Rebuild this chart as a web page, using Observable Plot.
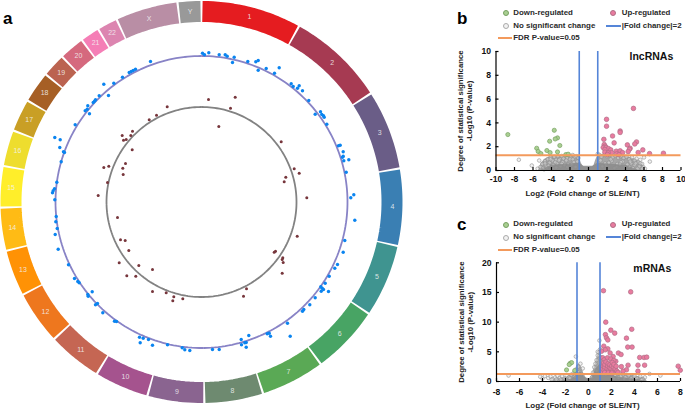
<!DOCTYPE html>
<html><head><meta charset="utf-8">
<script src="https://cdn.jsdelivr.net/npm/d3@7"></script>
<script src="https://cdn.jsdelivr.net/npm/@observablehq/plot@0.6"></script>
<style>
html,body{margin:0;padding:0;background:#fff}
#fig{position:relative;width:685px;height:410px;overflow:hidden;font-family:"Liberation Sans",Arial,sans-serif}
#fig>svg,#fig>div.p{position:absolute}
.lt{position:absolute;font-size:7.9px;font-weight:700;color:#2a2a2a;white-space:nowrap;line-height:10px}
.ld{position:absolute;width:4px;height:4px;border-radius:50%;box-sizing:content-box}
.ll{position:absolute;height:2px}
.pl{position:absolute;font-weight:700;font-size:17px;color:#000;line-height:19px}
</style></head><body><div id="fig"></div>
<script>
// ---- circular panel a ----
const chrNames=["1","2","3","4","5","6","7","8","9","10","11","12","13","14","15","16","17","18","19","20","21","22","X","Y"];
const chrSizes=[249,243,198,191,181,171,159,146,141,135,135,133,115,107,102,90,81,78,59,63,48,51,155,59];
const chrColors=["#e51c20","#a63a52","#6a5d87","#3a7fb3","#3f9490","#48a464","#5aa955","#6e8a70","#8a6490","#a5538e","#c56653","#ee771e","#ff9205","#ffbb15","#ffee2a","#eedd2e","#c99f25","#a65f25","#bb6350","#d5697e","#f57eb6","#dc85b0","#b98ea5","#999999"];
const blueX=[202,204,208.3,218.7,224.7,226.7,150,135,132.7,130.7,128.7,122,113.3,103.3,98.7,108,95,94,92.7,87.3,86.7,84.7,89,74.7,54.3,59.7,59.3,63,64,60.7,56.3,54,52.7,52,54.3,
233.7,232,247.3,255.3,257.7,257.7,265.7,274,278.7,290.7,292.7,298.7,297,302,308.3,314.7,320,321.3,323,323.7,326.3,338,339.7,342.7,342.7,342,343.3,348.3,345.7,353.3,350.3,
55.7,55.3,56.7,54.7,57.7,68,74,77.3,78.7,91.7,87.3,87.7,97,95,102.3,114,116,139,142.7,148,139.7,152,167,181.7,184.3,189.3,212,218.7,
354.3,344.3,342.7,337,334.3,328.7,324.7,320.3,321.7,323,320.7,328,314.7,309.3,303.3,302,287,289.7,266.7,268.7,270,248.3,240.7,245.7,244.3,241,245.7];
const blueY=[52.7,54.3,52.3,54.3,54.3,55.7,61,68.7,70,71,72,76.7,82.7,83.7,95.3,95,99.3,100.7,102,105.3,108.7,110.3,113.3,124.3,137,139.3,147,151.3,152,161.3,181.7,188.3,190.3,192.3,199.3,
56.7,62,61,61.3,60,69.7,68,72.7,67.3,83.3,86,85.3,87.7,90.3,100,113.7,111.3,114,115.3,116.7,123.7,145.3,144.7,151.3,155.7,156.7,160.3,159.3,171.7,194.3,197.3,
216,221.3,228,234,248.7,264.3,278,281,282.3,291.3,294,295.7,303,304.3,312.3,320.7,321,336.7,337.7,339,342.3,344.7,344.3,347.3,349.3,350,349,349,
219.7,240,251.7,264,267.7,275.7,282.7,286.3,287.7,289,290.7,291,297.3,304.3,309,310.7,322.7,335.7,333.3,332.7,335.7,335,339,342,342.3,344.3,346.7];
const brownX=[208,218.3,166.7,156,148.7,132,121.7,130.3,125.7,123,131.7,125,108.3,103.3,122.3,122.7,107,97.7,
234.7,230,280.7,293.7,298.7,285.3,283.7,306.3,
117,120,124.7,128.3,118.7,138.3,152,126.3,135.3,152,165.7,173.3,182.3,172.3,
296.7,275,273.7,282.3,281.7,282.7,281.7,246,243];
const brownY=[99,126,106.3,114.7,119.3,130.7,135,135,139,139.7,149.3,163,165.7,167,167.7,174,182,195,
96.7,107.7,141.3,168.3,172.7,176.7,181.3,197.3,
217,239.3,240,250,262.3,265,269,275.3,275.7,291,292.3,296.3,298.3,300.3,
235.7,250.7,251.7,257.3,259,262,272.7,288.3,295.7];

// ---- volcano b (lncRNAs) ----
const bDownX=[-8.72,-3.7,-3.35,-3.6,-4.2,-3.1,-5.6,-5.44,-5.15,-4.5,-4.15,-3.35,-2.45,-2.2];
const bDownY=[3.02,3.38,2.74,2.65,2.46,2.1,1.87,1.6,1.42,1.68,1.5,1.56,1.34,1.37];
const bUpX=[4.86,1.95,1.95,3.42,3.42,2.6,1.66,2.77,5.19,5,4.2,1.7,1.8,1.59,1.9,2.16,1.77,2.41,4.5,4.43,5.87,4.29,5.37,6.6,8.1,3,3.42,3.68,2.49,1.77,2.13,3.06,2.05,3.3];
const bUpY=[5.22,4.3,3.72,3.32,3.2,2.9,2.62,2.32,2.4,2.23,2.15,2.18,2.04,1.93,1.93,1.84,1.76,1.73,1.87,1.79,1.73,1.59,1.51,1.42,1.45,1.62,1.65,1.5,1.5,1.54,1.48,1.4,1.34,1.34];
const bNsX=[-7.53,-6.13,-5.5,-5.33,6.63,-5.2,-5,-4.9,-4.7,-4.6,-4.4,-4.2,-4.1,-3.9,-3.7,-3.5,-3.3,-3.1,-2.9,-2.7,-2.5,-2.3,-2.1,-1.9,-1.7,-1.5,-1.3,-1.1,-4.8,-4.5,-3.8,-3.4,-2.8,-2.2,-1.6,
1,1.2,1.4,1.7,2,2.3,2.6,2.9,3.2,3.5,3.8,4.1,4.4,4.7,5,5.2,5.4,5.6,5.8,6,5.9,6.1,5.5,5,4.6,4.2,3.7,3.1,2.5,1.8,4.8,5.3,
-4.3,-3.6,-3,-2.4,-1.8,-1.2,-3.9,-3.2,-2.6,-2,-1.4,-4.7,-4.1,-3.5,-2.9,-2.3,-1.7,1.3,1.9,2.4,3,3.5,4,4.5,5.1,1.5,2.2,2.8,3.4,3.9,4.4,5.6,5.8];
const bNsY=[.9,.42,.15,.84,.75,.3,.55,.2,.8,.4,.95,.65,1.1,.85,1.15,.9,1.2,.95,1.22,1,1.25,1.05,1.28,1.1,1.3,1.12,1.2,1.05,.1,.25,.45,.6,.7,.5,.7,
1.4,1.3,1.15,1.32,1.2,1.3,1.1,1.25,1.05,1.2,1.05,1.15,.95,1.1,.85,1,.7,.9,.55,1.1,.3,.15,.35,.45,.6,.5,.75,.55,.8,.6,.2,.15,
.4,.7,.35,.85,.5,.75,.2,.85,.45,.95,.3,.6,.95,.25,.55,.3,.95,.85,.4,.95,.3,.7,.25,.75,.6,.35,.65,.2,.5,.25,.3,.6,.15];
const bCloudX=[-5.4,-5.1,-4.7,-4.2,-3,-2,-1.5,-1,-.8,-.6,-.4,0,.4,.6,.8,1,1.5,2,3,4,4.6,5,5.5,5.9,6.2];
const bCloudY=[.03,.6,.95,1.15,1.25,1.3,1.25,1.15,.65,.35,.3,.3,.3,.45,.9,1.25,1.35,1.35,1.3,1.2,1.1,.95,.75,.45,.03];
const bCoreX=[-5.1,-4,-2,-1,-.5,0,.5,1,2,4,5.4];
const bCoreY=[.03,.45,.55,.6,.35,.35,.35,.6,.55,.45,.03];

// ---- volcano c (mRNAs) ----
const cDownX=[-1.91,-1.59,-1.47,-1.68,-1.2];
const cDownY=[1.95,3.07,3.18,2.85,1.85];
const cUpX=[1.3,3.67,1.5,3.76,1.94,2.28,1.47,1.56,1.68,3.3,1.33,3.41,3.79,1.68,1.45,1.13,2.6,2.83,1.88,2.14,4.45,4.83,5.06,2.37,1.24,1.36,1.65,1.94,2.2,2.86,3.44,4.3,4.88,7.8,7.98,3.3,3,4.3,
1.17,1.22,1.28,1.31,1.37,1.41,1.43,1.52,1.58,1.62,1.66,1.71,1.77,1.83,1.86,1.92,1.96,2.02,2.07,2.11,2.17,2.21,2.27,2.32,2.41,2.47,2.56,1.42,1.72,2.03];
const cUpY=[15.3,15.1,10,8.8,8.65,8.15,7.9,7.36,7,7.3,5.95,5.8,5.8,5.5,5.34,5.1,4.8,4.55,4.8,4.2,4.05,4.05,4.1,3.4,4,3.65,4,3.8,3.55,2.5,2.75,2.75,2.75,2.58,1.9,1.97,1.74,1.74,
1.62,2.13,2.58,3.12,1.91,2.43,2.87,3.3,1.58,2.14,2.62,3.03,1.87,2.33,2.84,1.56,2.17,2.6,3.21,1.79,2.42,2.88,1.61,2.12,2.56,1.76,1.53,1.52,1.47,1.44];
const cNsX=[-6.95,-4.2,-4,-3.8,-3.5,-3.3,-3.1,-2.9,-2.7,-2.5,-2.3,-2.1,-1.9,-1.7,-1.5,-1.3,-1.1,-.9,-.7,-.5,-.8,-1.1,
6.25,5.3,4.9,4.7,4.5,4.2,4,3.7,3.5,3.2,3,2.8,2.6,2.3,.5,.7,.8,.9,1,1.1,.6,.4,.95,.8,
-3.2,-2.8,-2.4,-2,-1.6,-1.2,-.6,.3,.7,1.2,1.5,2.2,2.6,3.1,3.6,4.1,4.6];
const cNsY=[1,.8,.5,.9,.6,.85,.4,.7,.95,.6,.85,.5,1,.7,1.15,1.4,2,2.5,3,2.2,1.6,4.2,
1,1.28,.7,.4,.85,.55,.9,.5,1.05,.7,1.2,.85,1.35,1.1,2.4,3.6,4.4,4.9,5.4,4.1,3,1.5,6.9,5,
.3,.35,.3,.35,.5,.8,1.2,.7,1.8,2.4,1.2,.5,.6,.4,.3,.35,.25];
const cCloudX=[-3.3,-3,-2.5,-2,-1.5,-1.2,-1,-.8,-.6,-.4,-.2,0,.1,.3,.5,.7,.9,1,1.2,1.5,2,2.5,3,4,4.9,5.1];
const cCloudY=[.03,.35,.55,.7,1.05,1.7,2.6,3,2.4,1.3,.6,.5,.45,1,2.3,3.7,5,5.2,4,3,2.2,1.6,1.25,.95,.6,.03];
const cCoreX=[-2.5,-1.5,-1,-.7,-.4,0,.3,.7,1,1.5,2.5,4,5];
const cCoreY=[.05,.4,1.1,1.7,.8,.35,.6,2.2,2.9,1.6,.7,.4,.05];

const legendLabels=["Down-regulated","Up-regulated","No significant change","|Fold change|=2","FDR P-value=0.05"];
const bPanel={name:"lncRNAs",xTicks:[-10,-8,-6,-4,-2,0,2,4,6,8,10],yTicks:[0,2,4,6,8,10],xDom:[-10,10],yDom:[0,10],fdr:1.28,labelX:6.8,labelY:9.55};
const cPanel={name:"mRNAs",xTicks:[-8,-6,-4,-2,0,2,4,6,8],yTicks:[0,5,10,15,20],xDom:[-8,8],yDom:[0,20],fdr:1.25,labelX:5.55,labelY:19};

const zip=(xs,ys)=>xs.map((x,i)=>({x,y:ys[i]}));
const fig=document.getElementById("fig");
const FONT='"Liberation Sans",Arial,sans-serif';

// ---- panel a ----
const cx=201,cy=201.5,total=d3.sum(chrSizes);
let acc=0;
const chrs=chrNames.map((n,i)=>{const a0=acc/total*360;acc+=chrSizes[i];return {n,c:chrColors[i],a0,a1:acc/total*360};});
function arc(r,pad){const out=[];chrs.forEach(ch=>{const s=ch.a0+pad,e=ch.a1-pad,k=Math.max(4,Math.ceil((e-s)/1.5));
  for(let j=0;j<=k;j++){const t=(s+(e-s)*j/k)*Math.PI/180;out.push({n:ch.n,c:ch.c,x:cx+r*Math.sin(t),y:cy-r*Math.cos(t)});}});return out;}
const mid=chrs.map(ch=>{const t=(ch.a0+ch.a1)/2*Math.PI/180;return {n:ch.n,x:cx+191*Math.sin(t),y:cy-191*Math.cos(t)};});
const circ=Plot.plot({width:405,height:405,margin:0,
  x:{domain:[0,405],range:[0,405],axis:null},y:{domain:[0,405],range:[0,405],axis:null},
  marks:[
    Plot.line(arc(190.5,.28),{x:"x",y:"y",z:"n",stroke:"c",strokeWidth:21,strokeLinecap:"butt",strokeLinejoin:"round"}),
    Plot.line(arc(146,.22),{x:"x",y:"y",z:"n",stroke:"#8883c6",strokeWidth:1.8}),
    Plot.line(arc(95,.3),{x:"x",y:"y",z:"n",stroke:"#828282",strokeWidth:1.8}),
    Plot.dot(zip(blueX,blueY),{x:"x",y:"y",r:1.7,fill:"#0a84f0"}),
    Plot.dot(zip(brownX,brownY),{x:"x",y:"y",r:1.5,fill:"#77363c"}),
    Plot.text(mid,{x:"x",y:"y",text:"n",fill:"#f3f3f3",fillOpacity:.85,fontSize:7,fontFamily:FONT})
  ]});
circ.style.left="0";circ.style.top="0";circ.style.background="transparent";fig.appendChild(circ);

// ---- volcano panels ----
function volcano(p,down,up,ns,cloud,core,o){
  const pl=Plot.plot({width:235,height:o.h,marginLeft:o.ml,marginRight:o.mr,marginTop:o.mt,marginBottom:o.mb,
    style:{fontFamily:FONT,background:"transparent",overflow:"visible"},
    x:{domain:p.xDom,axis:null},y:{domain:p.yDom,axis:null},
    marks:[
      Plot.areaY(cloud,{x:"x",y:"y",fill:"#a6a6a6",curve:"linear"}),
      Plot.dot(ns,{x:"x",y:"y",r:1.8,fill:"#e0e0e0",fillOpacity:.45,stroke:"#8e8e8e",strokeWidth:.6}),
      Plot.areaY(core,{x:"x",y:"y",fill:"#8a8a8a",fillOpacity:.8,curve:"linear"}),
      Plot.dot(down,{x:"x",y:"y",r:2.1,fill:"#a9cf91",stroke:"#77a062",strokeWidth:.7}),
      Plot.dot(up,{x:"x",y:"y",r:2.3,fill:"#e97b9f",stroke:"#b06f86",strokeWidth:.7}),
      Plot.ruleX([-1,1],{y1:0,y2:p.yDom[1],stroke:"#5585d8",strokeWidth:1.6}),
      Plot.ruleY([p.fdr],{x1:p.xDom[0],x2:p.xDom[1],stroke:"#f39a5c",strokeWidth:2}),
      Plot.ruleX([p.xDom[0]],{stroke:"#000",strokeWidth:1.2}),
      Plot.ruleY([0],{stroke:"#000",strokeWidth:1.2}),
      Plot.axisX({ticks:p.xTicks,tickFormat:d=>String(d),tickSize:-3,tickPadding:o.tp,fontSize:8.6,fontWeight:700,fill:"#111",stroke:"#000",strokeWidth:1.2,label:null}),
      Plot.axisY({ticks:p.yTicks,tickFormat:d=>String(d),tickSize:-3,tickPadding:8,fontSize:8.6,fontWeight:700,fill:"#111",stroke:"#000",strokeWidth:1.2,label:null}),
      Plot.text([p.name],{x:p.labelX,y:p.labelY,text:d=>d,fontSize:10.5,fontWeight:700,fill:"#111"}),
      Plot.text(["Log2 (Fold change of SLE/NT)"],{frameAnchor:"bottom",textAnchor:"middle",dx:-6,dy:o.xTitleDy,text:d=>d,fontSize:8,fontWeight:700,fill:"#222",lineAnchor:"middle"}),
      Plot.text(["Degree of statistical significance\n-Log10 (P-value)"],{frameAnchor:"left",textAnchor:"middle",dx:-31,text:d=>d,rotate:-90,fontSize:7.8,fontWeight:700,fill:"#222",lineHeight:1.15})
    ]});
  pl.style.left=o.left+"px";pl.style.top=o.top+"px";fig.appendChild(pl);
}
volcano(bPanel,zip(bDownX,bDownY),zip(bUpX,bUpY),zip(bNsX,bNsY),zip(bCloudX,bCloudY),zip(bCoreX,bCoreY),{left:450,top:45,h:160,ml:45.5,mr:4.5,mt:6,mb:35,xTitleDy:23,tp:8});
volcano(cPanel,zip(cDownX,cDownY),zip(cUpX,cUpY),zip(cNsX,cNsY),zip(cCloudX,cCloudY),zip(cCoreX,cCoreY),{left:450,top:255,h:155,ml:46,mr:5,mt:7.3,mb:29,xTitleDy:24,tp:10});

// ---- legends ----
function legend(top){
  const rows=[top,top+13,top+25.5];
  const add=(cls,css,txt)=>{const e=document.createElement("div");e.className=cls;e.style.cssText=css;if(txt)e.textContent=txt;fig.appendChild(e);};
  const dot=(x,y,f,s)=>add("ld",`left:${x-2.5}px;top:${y-2.5}px;background:${f};border:.7px solid ${s}`);
  const txt=(x,y,t)=>add("lt",`left:${x}px;top:${y-5}px`,t);
  dot(505,rows[0],"#a9cf91","#77a062");txt(513.3,rows[0],legendLabels[0]);
  dot(612.7,rows[0],"#e97b9f","#b06f86");txt(621.7,rows[0],legendLabels[1]);
  dot(505,rows[1],"#f2f2f2","#aaa");txt(513.3,rows[1],legendLabels[2]);
  add("ll",`left:605.7px;top:${rows[1]-1}px;width:15px;background:#5585d8`);txt(621.7,rows[1],legendLabels[3]);
  add("ll",`left:497.7px;top:${rows[2]-1}px;width:14.5px;background:#f39a5c`);txt(513.3,rows[2],legendLabels[4]);
}
legend(12.7);legend(224.3);
[["a",3,9],["b",457,9],["c",457,215]].forEach(([t,x,y])=>{const e=document.createElement("div");e.className="pl";e.style.left=x+"px";e.style.top=y+"px";e.textContent=t;fig.appendChild(e);});
</script></body></html>
